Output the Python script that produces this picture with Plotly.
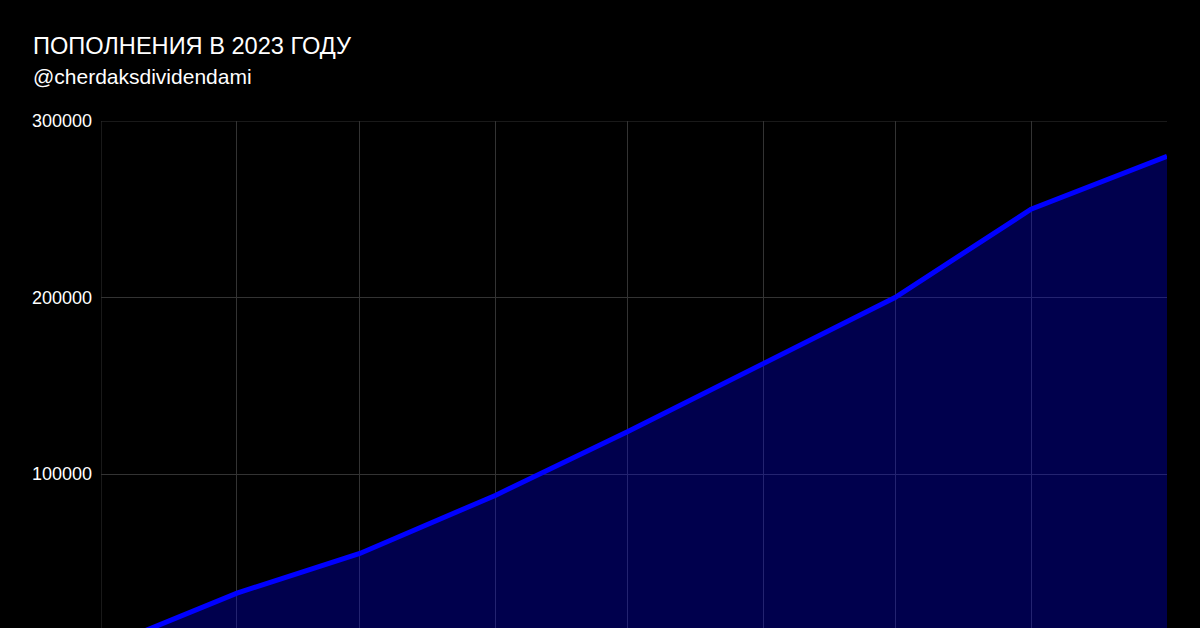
import plotly.graph_objects as go

months = ["2023-01-01", "2023-02-01", "2023-03-01", "2023-04-01", "2023-05-01",
          "2023-06-01", "2023-07-01", "2023-08-01", "2023-09-01"]
deposits = [1000, 32500, 55000, 88000, 124000, 163000, 200000, 250000, 280000]
y_ticks = [100000, 200000, 300000]

title_text = "ПОПОЛНЕНИЯ В 2023 ГОДУ"
subtitle_text = "@cherdaksdividendami"

fig = go.Figure()
fig.add_trace(go.Scatter(
    x=months, y=deposits, mode="lines",
    line=dict(color="#0000ff", width=5),
    fill="tozeroy", fillcolor="rgba(0,0,255,0.3)",
    hoverinfo="skip", showlegend=False,
))

W, H = 1200, 628
ml, mr, mt, mb = 101, 33, 121, 0
pw, ph = W - ml - mr, H - mt - mb

def px_x(p):
    return (p - ml) / pw

def px_y(p):
    return (H - mb - p) / ph

grid = "#333333"

fig.update_layout(
    width=W, height=H, autosize=False,
    margin=dict(l=ml, r=mr, t=mt, b=mb, pad=0),
    paper_bgcolor="#000000", plot_bgcolor="#000000",
    font=dict(family="Liberation Sans, Arial, sans-serif", color="#ffffff"),
    xaxis=dict(
        type="date", range=[months[0], months[-1]],
        tick0=months[0], dtick="M1",
        showgrid=True, gridcolor=grid, gridwidth=1,
        showticklabels=False, zeroline=False, showline=False, ticks="",
    ),
    yaxis=dict(
        range=[12750, 300000], tickvals=y_ticks,
        ticktext=[str(v) for v in y_ticks],
        showgrid=True, gridcolor=grid, gridwidth=1,
        zeroline=False, showline=False, ticks="",
        tickfont=dict(size=18, color="#ffffff"),
        ticklabelstandoff=8,
    ),
    shapes=[
        dict(type="line", xref="x", yref="paper", x0=months[0], x1=months[0],
             y0=0, y1=1, line=dict(color=grid, width=1), layer="below"),
        dict(type="line", xref="paper", yref="y", x0=0, x1=1,
             y0=y_ticks[-1], y1=y_ticks[-1], line=dict(color=grid, width=1), layer="below"),
    ],
    annotations=[
        dict(text=title_text, xref="paper", yref="paper",
             x=px_x(31), y=px_y(46), xanchor="left", yanchor="middle",
             showarrow=False, font=dict(size=23.6, color="#ffffff")),
        dict(text=subtitle_text, xref="paper", yref="paper",
             x=px_x(31), y=px_y(76), xanchor="left", yanchor="middle",
             showarrow=False, font=dict(size=21, color="#ffffff")),
    ],
)

fig.write_html("out.html", config={"displayModeBar": False},
               post_script="document.body.style.margin='0';document.body.style.background='#000';")
